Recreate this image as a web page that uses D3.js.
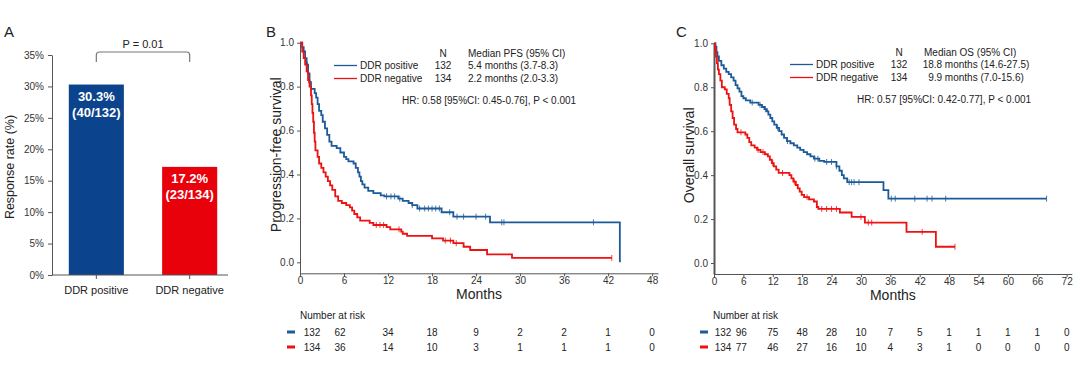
<!DOCTYPE html>
<html><head><meta charset="utf-8">
<script src="https://cdn.jsdelivr.net/npm/d3@7"></script>
<style>
html,body{margin:0;padding:0;background:#fff;}
svg{display:block;font-family:"Liberation Sans",Arial,sans-serif;}
.axis text{fill:#333;font-size:10px;font-family:"Liberation Sans",Arial,sans-serif;}
.axis path,.axis line{stroke:#555;}
</style></head>
<body>
<svg id="c" width="1080" height="366"></svg>
<script>
// ---------- Panel A data ----------
const barCategories = ["DDR positive", "DDR negative"];
const barValues = [0.303, 0.172];
const barCounts = ["(40/132)", "(23/134)"];
const barPctLabels = ["30.3%", "17.2%"];
const barTicks = [0, 0.05, 0.10, 0.15, 0.20, 0.25, 0.30, 0.35];
const pValueLabel = "P = 0.01";

// ---------- Panel B (PFS) data ----------
const pfsPosTimes = [0.3,0.5,0.7,0.9,1.1,1.3,1.5,2.0,2.2,2.4,2.6,2.9,3.1,3.4,3.7,4.0,4.3,5.0,5.5,6.0,6.3,6.6,7.3,7.6,7.9,8.1,8.3,8.5,8.8,9.3,10.0,11.0,11.5,13.4,14.0,14.8,15.3,16.0,19.3,20.9,25.9,43.6];
const pfsPosSurv  = [0.98,0.96,0.93,0.90,0.86,0.82,0.79,0.77,0.75,0.72,0.69,0.67,0.64,0.61,0.58,0.55,0.53,0.52,0.50,0.48,0.47,0.46,0.45,0.43,0.41,0.39,0.37,0.355,0.34,0.325,0.315,0.305,0.30,0.29,0.28,0.27,0.26,0.245,0.228,0.208,0.182,0.0];
const pfsPosEnd = 43.6;
const pfsPosCensor = [1.0,11.8,12.4,12.9,13.6,15.3,16.3,17.0,17.5,18.0,18.5,19.0,20.4,21.4,22.3,24.0,25.3,27.5,27.8,40.0];

const pfsNegTimes = [0.3,0.5,0.7,0.9,1.1,1.3,1.5,1.6,1.7,1.8,1.9,2.0,2.1,2.4,2.6,2.9,3.2,3.5,3.8,4.1,4.4,4.8,5.2,5.7,6.3,6.8,7.1,7.4,7.8,8.2,9.5,10.0,11.8,12.3,13.8,14.0,14.6,18.0,19.5,20.9,22.3,23.2,25.5,28.9];
const pfsNegSurv  = [0.96,0.93,0.90,0.87,0.83,0.80,0.76,0.72,0.68,0.64,0.59,0.55,0.51,0.48,0.45,0.43,0.41,0.39,0.37,0.35,0.33,0.30,0.28,0.27,0.26,0.25,0.235,0.22,0.205,0.19,0.18,0.17,0.16,0.15,0.14,0.13,0.12,0.109,0.099,0.087,0.071,0.056,0.036,0.02];
const pfsNegEnd = 42.5;
const pfsNegCensor = [1.2,10.4,10.9,11.4,13.5,19.8,20.5,21.3,42.5];

const pfsTicksX = [0,6,12,18,24,30,36,42,48];
const pfsRiskPos = [132,62,34,18,9,2,2,1,0];
const pfsRiskNeg = [134,36,14,10,3,1,1,1,0];

// ---------- Panel C (OS) data ----------
const osPosTimes = [0.3,0.5,0.7,1.0,1.5,2.0,2.5,3.0,3.5,4.0,4.4,4.8,5.2,5.6,6.0,6.5,7.4,9.1,9.8,10.3,10.8,11.1,11.5,11.9,12.3,12.8,13.3,13.8,14.3,14.9,15.6,16.3,17.0,17.6,18.3,19.0,19.7,20.4,21.5,22.5,25.0,25.6,26.1,26.5,27.2,34.6,35.6];
const osPosSurv  = [0.985,0.96,0.94,0.92,0.90,0.885,0.87,0.86,0.845,0.83,0.81,0.795,0.78,0.76,0.75,0.74,0.73,0.72,0.71,0.70,0.69,0.675,0.66,0.645,0.63,0.615,0.60,0.585,0.57,0.555,0.545,0.535,0.525,0.515,0.505,0.495,0.485,0.475,0.465,0.46,0.44,0.42,0.40,0.385,0.368,0.332,0.293];
const osPosEnd = 67.9;
const osPosCensor = [7.8,9.4,10.5,13.0,15.0,20.6,21.2,23.0,24.0,25.0,27.6,28.1,28.6,29.6,36.2,37.0,41.0,43.5,44.5,47.3,67.9];

const osNegTimes = [0.2,0.4,0.6,0.8,1.0,1.3,1.6,2.2,2.6,3.0,3.2,3.5,3.8,4.1,4.5,4.8,6.4,6.8,7.2,7.6,8.3,8.8,9.5,10.4,11.0,11.4,11.8,12.2,12.7,13.2,15.4,15.8,16.2,16.7,17.1,17.5,17.9,18.4,19.4,20.4,21.0,21.3,25.7,28.1,30.8,39.3,45.3];
const osNegSurv  = [0.97,0.94,0.91,0.88,0.86,0.83,0.80,0.79,0.77,0.75,0.72,0.69,0.66,0.63,0.61,0.595,0.585,0.57,0.55,0.535,0.525,0.515,0.505,0.495,0.485,0.47,0.455,0.44,0.425,0.41,0.40,0.385,0.37,0.355,0.34,0.325,0.31,0.30,0.29,0.28,0.255,0.246,0.23,0.21,0.184,0.142,0.074];
const osNegEnd = 49.2;
const osNegCensor = [5.5,9.0,10.0,12.0,14.0,16.4,19.0,22.0,23.0,24.0,25.0,30.0,31.5,32.2,42.5,49.2];

const osTicksX = [0,6,12,18,24,30,36,42,48,54,60,66,72];
const osRiskPos = [132,96,75,48,28,10,7,5,1,1,1,1,0];
const osRiskNeg = [134,77,46,27,16,10,4,3,1,0,0,0,0];

const survTicks = [0,0.2,0.4,0.6,0.8,1.0];
const seriesNames = ["DDR positive","DDR negative"];

// ---------- Styles ----------
const BLUE_BAR = "#0b448c", RED_BAR = "#e8000a";
const BLUE = "#1d5a99", RED = "#ee1111";
const TXT = "#222";

const svg = d3.select("#c");

// ================= Panel A =================
(function(){
  const g = svg.append("g");
  g.append("text").attr("x",4).attr("y",37).attr("font-size",15).attr("fill",TXT).text("A");
  const y = d3.scaleLinear().domain([0,0.35]).range([275,55]);
  const x = d3.scaleBand().domain(barCategories).range([52,234]).paddingInner(0.41).paddingOuter(0.18);
  const colors = [BLUE_BAR, RED_BAR];
  g.selectAll("rect.bar").data(barValues).enter().append("rect")
    .attr("x",(d,i)=>x(barCategories[i])).attr("width",x.bandwidth())
    .attr("y",d=>y(d)).attr("height",d=>y(0)-y(d)).attr("fill",(d,i)=>colors[i]);
  const ya = g.append("g").attr("class","axis").attr("transform","translate(52,0)")
    .call(d3.axisLeft(y).tickValues(barTicks).tickFormat(d3.format(".0%")).tickSize(4).tickSizeOuter(0));
  ya.selectAll("text").attr("font-size",10).attr("dx",-1);
  g.append("line").attr("x1",52).attr("x2",228).attr("y1",y(0)).attr("y2",y(0)).attr("stroke","#555");
  barCategories.forEach((c,i)=>{
    const cx = x(c)+x.bandwidth()/2;
    g.append("line").attr("x1",cx).attr("x2",cx).attr("y1",y(0)).attr("y2",y(0)+4).attr("stroke","#555");
    g.append("text").attr("x",cx).attr("y",y(0)+19).attr("text-anchor","middle").attr("font-size",11).attr("fill",TXT).text(c);
    g.append("text").attr("x",cx).attr("y",y(barValues[i])+16).attr("text-anchor","middle").attr("font-size",13)
      .attr("font-weight","bold").attr("fill","#fff").text(barPctLabels[i]);
    g.append("text").attr("x",cx).attr("y",y(barValues[i])+32).attr("text-anchor","middle").attr("font-size",13)
      .attr("font-weight","bold").attr("fill","#fff").text(barCounts[i]);
  });
  g.append("text").attr("transform",`translate(14,167) rotate(-90)`).attr("text-anchor","middle")
    .attr("font-size",12.5).attr("fill",TXT).text("Response rate (%)");
  const x1 = x(barCategories[0])+x.bandwidth()/2, x2 = x(barCategories[1])+x.bandwidth()/2;
  const by = 52, bb = 62, r = 3;
  g.append("path").attr("fill","none").attr("stroke","#777").attr("stroke-width",1.2)
    .attr("d",`M${x1},${bb} L${x1},${by+r} Q${x1},${by} ${x1+r},${by} L${x2-r},${by} Q${x2},${by} ${x2},${by+r} L${x2},${bb}`);
  g.append("text").attr("x",(x1+x2)/2).attr("y",48).attr("text-anchor","middle").attr("font-size",11).attr("fill",TXT).text(pValueLabel);
})();

// ================= KM helper =================
function survAt(times, surv, t){
  const i = d3.bisectRight(times, t);
  return i===0 ? 1 : surv[i-1];
}
function drawKM(cfg){
  const g = svg.append("g");
  const x = d3.scaleLinear().domain(cfg.xDomain).range(cfg.xRange);
  const y = d3.scaleLinear().domain([-0.05,1]).range(cfg.yRange);
  g.append("text").attr("x",cfg.letterX).attr("y",37).attr("font-size",15).attr("fill",TXT).text(cfg.letter);
  const xa = g.append("g").attr("class","axis").attr("transform",`translate(0,${cfg.yRange[0]})`)
    .call(d3.axisBottom(x).tickValues(cfg.ticksX).tickSize(3).tickPadding(1).tickSizeOuter(0));
  xa.selectAll("text").attr("font-size",10);
  const ya = g.append("g").attr("class","axis").attr("transform",`translate(${cfg.xRange[0]},0)`)
    .call(d3.axisLeft(y).tickValues(survTicks).tickFormat(d3.format(".1f")).tickSize(3).tickSizeOuter(0));
  ya.selectAll("text").attr("font-size",10);
  ya.select("path.domain").attr("stroke",cfg.yAxisColor).attr("stroke-width",cfg.yAxisWidth);
  g.append("text").attr("x",(cfg.xRange[0]+cfg.xRange[1])/2).attr("y",cfg.yRange[0]+26).attr("text-anchor","middle")
    .attr("font-size",14).attr("fill",TXT).text("Months");
  g.append("text").attr("transform",`translate(${cfg.yTitleX},${y(0.49)}) rotate(-90)`).attr("text-anchor","middle")
    .attr("font-size",14).attr("fill",TXT).text(cfg.yTitle);
  const line = d3.line().x(d=>x(d[0])).y(d=>y(d[1])).curve(d3.curveStepAfter);
  cfg.series.forEach(s=>{
    const pts = [[0,1]].concat(s.times.map((t,i)=>[t,s.surv[i]]));
    const last = pts[pts.length-1];
    if (s.end > last[0]) pts.push([s.end, last[1]]);
    g.append("path").attr("d",line(pts)).attr("fill","none").attr("stroke",s.color).attr("stroke-width",1.8);
    g.selectAll(null).data(s.censor).enter().append("line")
      .attr("x1",d=>x(d)).attr("x2",d=>x(d))
      .attr("y1",d=>y(survAt(s.times,s.surv,d))-3).attr("y2",d=>y(survAt(s.times,s.surv,d))+3)
      .attr("stroke",s.color).attr("stroke-width",1).attr("opacity",0.8);
  });
  const L = cfg.legend;
  g.append("text").attr("x",L.nX).attr("y",L.y0).attr("text-anchor","middle").attr("font-size",10).attr("fill",TXT).text("N");
  g.append("text").attr("x",L.medX).attr("y",L.y0).attr("font-size",10).attr("fill",TXT).text(L.header);
  cfg.series.forEach((s,i)=>{
    const yy = L.y0 + 12 + i*13;
    g.append("line").attr("x1",L.lineX).attr("x2",L.lineX+23).attr("y1",yy-3.5).attr("y2",yy-3.5).attr("stroke",s.color).attr("stroke-width",1.3);
    g.append("text").attr("x",L.lineX+26).attr("y",yy).attr("font-size",10).attr("fill",TXT).text(seriesNames[i]);
    g.append("text").attr("x",L.nX).attr("y",yy).attr("text-anchor","middle").attr("font-size",10).attr("fill",TXT).text(s.n);
    g.append("text").attr("x",L.valX).attr("y",yy).attr("text-anchor",L.valAnchor).attr("font-size",10).attr("fill",TXT).text(s.median);
  });
  g.append("text").attr("x",L.hrX).attr("y",L.y0+47).attr("font-size",10).attr("fill",TXT).text(L.hr);
  g.append("text").attr("x",cfg.riskLabelX).attr("y",319).attr("font-size",10).attr("fill",TXT).text("Number at risk");
  cfg.series.forEach((s,i)=>{
    const yy = 336 + i*15;
    g.append("line").attr("x1",cfg.riskDashX).attr("x2",cfg.riskDashX+8).attr("y1",yy-4).attr("y2",yy-4).attr("stroke",s.color).attr("stroke-width",3);
    g.selectAll(null).data(s.risk).enter().append("text")
      .attr("x",(d,j)=>x(cfg.ticksX[j]) + (j===0?cfg.firstNudge:(j===1?cfg.secondNudge:0)))
      .attr("y",yy).attr("text-anchor","middle").attr("font-size",10).attr("fill",TXT).text(d=>d);
  });
}

drawKM({
  letter:"B", letterX:266,
  xDomain:[0,48.8], xRange:[300,658], yRange:[273.3,42.7],
  ticksX:pfsTicksX, yTitle:"Progression-free survival", yTitleX:281,
  yAxisColor:"#555", yAxisWidth:1,
  series:[
    {times:pfsPosTimes,surv:pfsPosSurv,end:pfsPosEnd,censor:pfsPosCensor,color:BLUE,n:"132",median:"5.4 months (3.7-8.3)",risk:pfsRiskPos},
    {times:pfsNegTimes,surv:pfsNegSurv,end:pfsNegEnd,censor:pfsNegCensor,color:RED,n:"134",median:"2.2 months (2.0-3.3)",risk:pfsRiskNeg}
  ],
  legend:{y0:57,nX:443,medX:468,lineX:334,valX:468,valAnchor:"start",hrX:402,header:"Median PFS (95% CI)",hr:"HR: 0.58 [95%CI: 0.45-0.76], P < 0.001"},
  riskLabelX:300, riskDashX:287, firstNudge:12, secondNudge:-4
});

drawKM({
  letter:"C", letterX:676,
  xDomain:[0,73.05], xRange:[714,1071.8], yRange:[274,43.3],
  ticksX:osTicksX, yTitle:"Overall survival", yTitleX:694,
  yAxisColor:"#bbb", yAxisWidth:2,
  series:[
    {times:osPosTimes,surv:osPosSurv,end:osPosEnd,censor:osPosCensor,color:BLUE,n:"132",median:"18.8 months (14.6-27.5)",risk:osRiskPos},
    {times:osNegTimes,surv:osNegSurv,end:osNegEnd,censor:osNegCensor,color:RED,n:"134",median:"9.9 months (7.0-15.6)",risk:osRiskNeg}
  ],
  legend:{y0:56,nX:899,medX:924,lineX:790,valX:976,valAnchor:"middle",hrX:857,header:"Median OS (95% CI)",hr:"HR: 0.57 [95%CI: 0.42-0.77], P < 0.001"},
  riskLabelX:713, riskDashX:700, firstNudge:9, secondNudge:-2
});
</script>
</body></html>
